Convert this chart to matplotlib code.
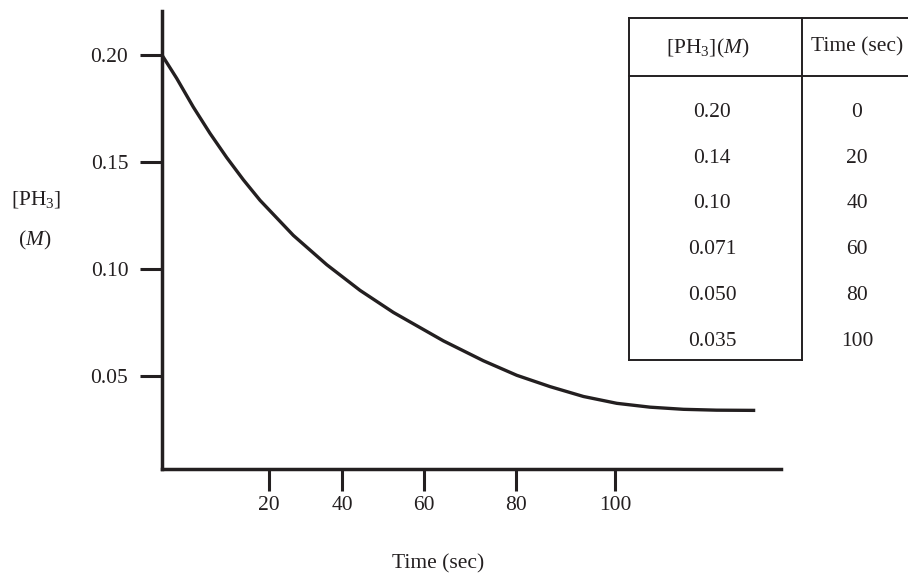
import numpy as np
import matplotlib
matplotlib.use("Agg")
import matplotlib.pyplot as plt
from matplotlib.lines import Line2D

# ---------------- data ----------------
# curve (time in s, [PH3] in M)
curve_time = [0, 2.75, 5.85, 8.97, 12.09, 15.20, 18.32, 26.66, 35.81, 44.39,
              52.51, 64.20, 72.89, 80.14, 86.87, 93.60, 100.34, 107.07, 113.8,
              120.5, 128.3]
curve_conc = [0.200, 0.1891, 0.1757, 0.1634, 0.1521, 0.1417, 0.1321, 0.1157,
              0.1020, 0.0900, 0.0797, 0.0664, 0.0571, 0.0503, 0.0450, 0.0404,
              0.0372, 0.0354, 0.0344, 0.0340, 0.0339]

x_ticks = [20, 40, 60, 80, 100]
x_tick_labels = ["20", "40", "60", "80", "100"]
y_ticks = [0.05, 0.10, 0.15, 0.20]
y_tick_labels = ["0.05", "0.10", "0.15", "0.20"]

table_conc = ["0.20", "0.14", "0.10", "0.071", "0.050", "0.035"]
table_time = ["0", "20", "40", "60", "80", "100"]
table_headers = [r"[PH$_3$]($M$)", "Time (sec)"]

# ---------------- style ----------------
INK = "#231f20"
W, H = 908, 573
plt.rcParams["font.family"] = ["Liberation Serif", "DejaVu Serif"]
plt.rcParams["mathtext.fontset"] = "custom"
plt.rcParams["mathtext.rm"] = "Liberation Serif"
plt.rcParams["mathtext.it"] = "Liberation Serif:italic"
plt.rcParams["mathtext.bf"] = "Liberation Serif:bold"
FS = 15.5

# hand-drawn time axis: tick spacing widens to the right
axis_t = np.array([0, 20, 40, 60, 80, 100], float)
axis_p = np.array([0, 107, 180, 262, 354, 453], float)
s0 = (axis_p[1] - axis_p[0]) / (axis_t[1] - axis_t[0])
s1 = (axis_p[-1] - axis_p[-2]) / (axis_t[-1] - axis_t[-2])


def _pw(v, xs, ys, a, b):
    v = np.asarray(v, float)
    shp = v.shape
    v = np.atleast_1d(v).ravel()
    out = np.interp(v, xs, ys)
    lo = v < xs[0]
    hi = v > xs[-1]
    out[lo] = ys[0] + (v[lo] - xs[0]) * a
    out[hi] = ys[-1] + (v[hi] - xs[-1]) * b
    return out.reshape(shp)


def fwd(t):
    return _pw(t, axis_t, axis_p, s0, s1)


def inv(p):
    return _pw(p, axis_p, axis_t, 1 / s0, 1 / s1)


fig = plt.figure(figsize=(W / 100, H / 100), dpi=100)


def fx(px):
    return px / W


def fy(py):
    return 1 - py / H


ax = fig.add_axes([fx(162), fy(469), fx(781) - fx(162), fy(11) - fy(469)])
ax.set_xscale("function", functions=(fwd, inv))
ax.plot(curve_time, curve_conc, color=INK, lw=2.4, solid_capstyle="butt",
        solid_joinstyle="round")
ax.set_xlim(0, 133.5)
ax.set_ylim(0.0065, 0.2206)

for s in ["top", "right"]:
    ax.spines[s].set_visible(False)
for s in ["left", "bottom"]:
    ax.spines[s].set_linewidth(2.5)
    ax.spines[s].set_color(INK)

ax.set_xticks(x_ticks)
ax.set_xticklabels(x_tick_labels)
ax.set_yticks(y_ticks)
ax.set_yticklabels(y_tick_labels)
ax.xaxis.set_minor_locator(matplotlib.ticker.NullLocator())
ax.tick_params(axis="both", direction="out", length=15.8, width=2.2,
               color=INK, labelcolor=INK, labelsize=FS)
ax.tick_params(axis="y", pad=8.5)
ax.tick_params(axis="x", pad=4.0)

# axis titles
fig.text(fx(438), fy(564), "Time (sec)", ha="center", va="center",
         fontsize=FS, color=INK)
fig.text(fx(36), fy(199), r"[PH$_3$]", ha="center", va="center",
         fontsize=FS, color=INK)
fig.text(fx(35), fy(240), r"($M$)", ha="center", va="center",
         fontsize=FS, color=INK)

# ---------------- data table ----------------
tl, tr, tt, tb = 629, 912, 18, 360
t_head = 76
t_div = 802
lw_t = 1.4
for (x0, y0, x1, y1) in [(tl, tt, tr, tt), (tl, t_head, tr, t_head),
                         (tl, tb, t_div, tb), (tl, tt, tl, tb),
                         (t_div, tt, t_div, tb)]:
    fig.add_artist(Line2D([fx(x0), fx(x1)], [fy(y0), fy(y1)],
                          transform=fig.transFigure, color=INK, lw=lw_t,
                          solid_capstyle="projecting"))

c1, c2 = 712, 857
fig.text(fx(708), fy(48), table_headers[0], ha="center", va="center",
         fontsize=FS, color=INK)
fig.text(fx(c2), fy(47), table_headers[1], ha="center", va="center",
         fontsize=FS, color=INK)
row0, drow = 112.5, 45.7
for i, (cv, tv) in enumerate(zip(table_conc, table_time)):
    yy = row0 + i * drow
    fig.text(fx(c1), fy(yy), cv, ha="center", va="center", fontsize=FS,
             color=INK)
    fig.text(fx(c2), fy(yy), tv, ha="center", va="center", fontsize=FS,
             color=INK)

fig.savefig("out.png", dpi=100)
